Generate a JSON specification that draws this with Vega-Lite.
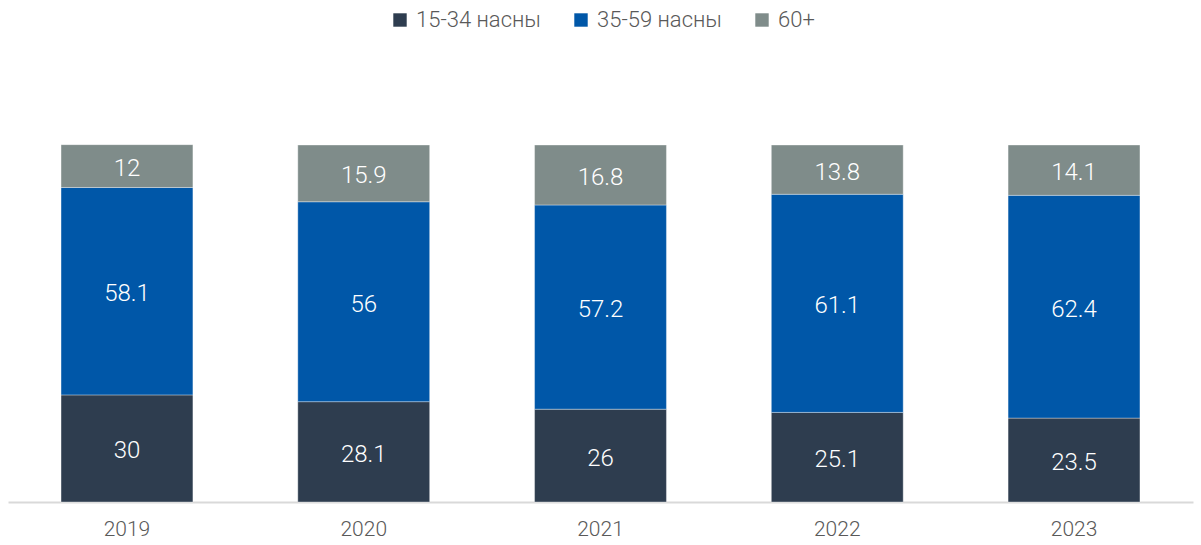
{
  "$schema": "https://vega.github.io/schema/vega-lite/v6.json",
  "width": 1185,
  "height": 357,
  "autosize": {"type": "none"},
  "padding": {"left": 8, "top": 145, "right": 8, "bottom": 43},
  "background": "white",
  "config": {
    "view": {"stroke": null},
    "font": "Roboto",
    "text": {"font": "Roboto"}
  },
  "data": {
    "values": [
      {"year": "2019", "group": "15-34 насны", "order": 1, "value": 30},
      {"year": "2019", "group": "35-59 насны", "order": 2, "value": 58.1},
      {"year": "2019", "group": "60+", "order": 3, "value": 12},
      {"year": "2020", "group": "15-34 насны", "order": 1, "value": 28.1},
      {"year": "2020", "group": "35-59 насны", "order": 2, "value": 56},
      {"year": "2020", "group": "60+", "order": 3, "value": 15.9},
      {"year": "2021", "group": "15-34 насны", "order": 1, "value": 26},
      {"year": "2021", "group": "35-59 насны", "order": 2, "value": 57.2},
      {"year": "2021", "group": "60+", "order": 3, "value": 16.8},
      {"year": "2022", "group": "15-34 насны", "order": 1, "value": 25.1},
      {"year": "2022", "group": "35-59 насны", "order": 2, "value": 61.1},
      {"year": "2022", "group": "60+", "order": 3, "value": 13.8},
      {"year": "2023", "group": "15-34 насны", "order": 1, "value": 23.5},
      {"year": "2023", "group": "35-59 насны", "order": 2, "value": 62.4},
      {"year": "2023", "group": "60+", "order": 3, "value": 14.1}
    ]
  },
  "transform": [
    {"stack": "value", "groupby": ["year"], "sort": [{"field": "order"}], "as": ["v0", "v1"]},
    {"calculate": "(datum.v0 + datum.v1) / 2", "as": "mid"}
  ],
  "encoding": {
    "x": {
      "field": "year",
      "type": "nominal",
      "scale": {"paddingInner": 0.443, "paddingOuter": 0.224},
      "axis": {
        "title": null,
        "labelAngle": 0,
        "ticks": false,
        "labelPadding": 16,
        "labelFontSize": 21,
        "labelFont": "Roboto",
        "labelFontWeight": 300,
        "labelColor": "#595959",
        "domainColor": "#D9D9D9",
        "domainWidth": 2,
        "grid": false
      }
    }
  },
  "layer": [
    {
      "mark": {"type": "bar", "stroke": "white", "strokeWidth": 0.6, "strokeOpacity": 0.6},
      "encoding": {
        "y": {"field": "v0", "type": "quantitative", "scale": {"domain": [0, 100]}, "axis": null},
        "y2": {"field": "v1"},
        "color": {
          "field": "group",
          "type": "nominal",
          "scale": {
            "domain": ["15-34 насны", "35-59 насны", "60+"],
            "range": ["#2E3D4F", "#0057A8", "#7F8C8A"]
          },
          "legend": {
            "title": null,
            "orient": "none",
            "direction": "horizontal",
            "legendX": 381,
            "legendY": -136,
            "symbolType": "square",
            "symbolSize": 180,
            "symbolStrokeWidth": 0,
            "symbolOpacity": 1,
            "labelFontSize": 22,
            "labelFont": "Roboto",
            "labelFontWeight": 300,
            "labelColor": "#595959",
            "labelOffset": 5,
            "columnPadding": 29
          }
        }
      }
    },
    {
      "mark": {"type": "text", "color": "white", "fontSize": 24, "font": "Roboto", "fontWeight": 300, "baseline": "middle", "dy": 3},
      "encoding": {
        "y": {"field": "mid", "type": "quantitative", "scale": {"domain": [0, 100]}},
        "text": {"field": "value", "type": "quantitative", "format": ".3~"}
      }
    }
  ]
}
